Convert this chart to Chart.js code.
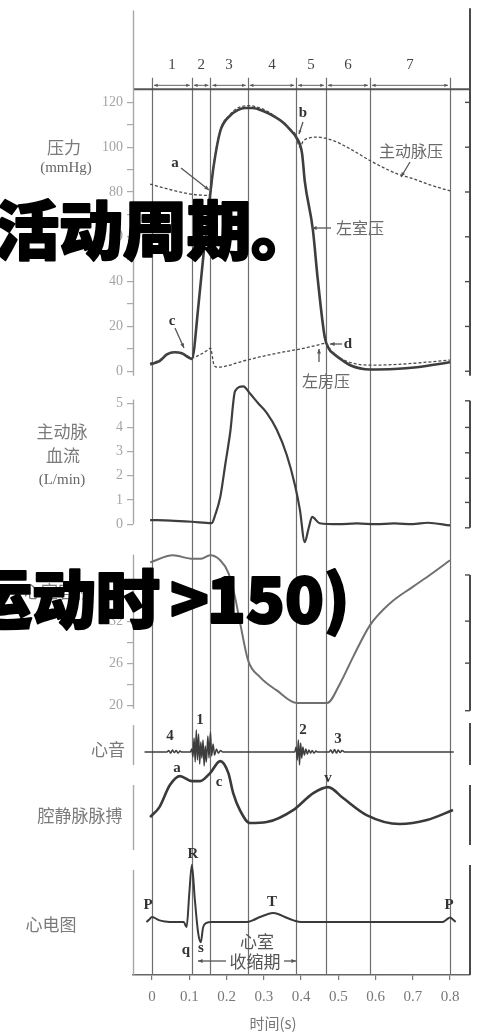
<!DOCTYPE html>
<html>
<head>
<meta charset="utf-8">
<script src="https://cdn.jsdelivr.net/npm/chart.js@4.4.0/dist/chart.umd.min.js"></script>
<style>
  html, body { margin: 0; padding: 0; background: #fff; }
  canvas { display: block; }
</style>
</head>
<body>
<canvas id="cycle" width="477" height="1032"></canvas>
<script>
// time axis (s)
var xTicks = [0, 0.1, 0.2, 0.3, 0.4, 0.5, 0.6, 0.7, 0.8];
var phaseBounds = [0, 0.107, 0.157, 0.257, 0.387, 0.467, 0.585, 0.8];
var phaseNames = ['1', '2', '3', '4', '5', '6', '7'];

// tick values per panel
var pressureTicks = [0, 10, 20, 30, 40, 50, 60, 70, 80, 90, 100, 110, 120];
var flowTicks = [0, 1, 2, 3, 4, 5];
var volumeTicks = [20, 23, 26, 29, 32, 35, 38];

// left ventricular pressure (mmHg)
var lvTime = [-0.005, 0.02, 0.04, 0.06, 0.08, 0.1, 0.107, 0.125, 0.14, 0.157, 0.165, 0.183, 0.209, 0.23, 0.25, 0.27, 0.3, 0.33, 0.352, 0.375, 0.387, 0.403, 0.41, 0.432, 0.445, 0.464, 0.475, 0.486, 0.51, 0.532, 0.585, 0.65, 0.711, 0.8];
var lvPressure = [3, 4.5, 7.5, 8.5, 8, 6, 5.5, 30, 55, 80, 91, 107, 114, 116.5, 117.5, 117.5, 116, 113.5, 111, 107, 104.5, 97, 85, 63, 41, 15, 10, 8, 5, 2.7, 0.8, 1, 1.8, 4];

// aortic pressure (mmHg)
var aoTime = [-0.005, 0.05, 0.107, 0.15, 0.157, 0.165, 0.183, 0.209, 0.23, 0.26, 0.29, 0.32, 0.35, 0.375, 0.387, 0.393, 0.398, 0.405, 0.42, 0.44, 0.466, 0.5, 0.55, 0.58, 0.62, 0.66, 0.7, 0.75, 0.8];
var aoPressure = [83.5, 81, 79, 78.5, 80, 91.5, 107.5, 114.5, 117.5, 118.5, 117.5, 115, 111, 107.5, 105, 101, 100, 102.5, 104, 104.5, 104, 102, 97.5, 94.5, 91, 88, 86, 83, 80.5];

// left atrial pressure (mmHg)
var laTime = [-0.005, 0.02, 0.04, 0.06, 0.08, 0.1, 0.107, 0.13, 0.15, 0.157, 0.166, 0.175, 0.25, 0.3, 0.35, 0.4, 0.44, 0.467, 0.48, 0.5, 0.53, 0.585, 0.65, 0.72, 0.8];
var laPressure = [3.5, 5, 7.5, 8.5, 8, 6.5, 6, 7.5, 9.5, 10.3, 3, 1.8, 4.8, 6.8, 8.5, 10, 11.5, 12.5, 9.5, 6.5, 4, 2.7, 3, 3.8, 5];

// aortic blood flow (L/min)
var flowTime = [-0.005, 0.05, 0.107, 0.16, 0.17, 0.183, 0.197, 0.21, 0.223, 0.245, 0.263, 0.285, 0.308, 0.335, 0.362, 0.384, 0.397, 0.41, 0.42, 0.43, 0.45, 0.5, 0.55, 0.6, 0.65, 0.7, 0.74, 0.8];
var flowRate = [0.17, 0.15, 0.1, 0.04, 0.4, 1.1, 2.5, 3.8, 5.5, 5.7, 5.4, 5.0, 4.6, 3.9, 2.85, 1.6, 0.6, -0.74, -0.2, 0.3, 0.04, 0, 0.03, 0, 0.03, 0, 0.06, -0.05];

// ventricular volume
var volTime = [-0.005, 0.056, 0.11, 0.13, 0.156, 0.183, 0.205, 0.223, 0.236, 0.258, 0.29, 0.335, 0.389, 0.47, 0.505, 0.54, 0.585, 0.64, 0.7, 0.746, 0.8];
var volume = [40.4, 41.4, 40.9, 40.9, 41.4, 40.7, 38.9, 35.4, 31.9, 26.4, 24, 22.1, 20.3, 20.3, 23.1, 26.9, 31.4, 34.6, 36.9, 38.6, 40.7];

// heart sounds (relative amplitude)
var soundTime = [-0.02, 0.04, 0.045, 0.05, 0.055, 0.06, 0.065, 0.07, 0.075, 0.08,
  0.103, 0.107, 0.11, 0.113, 0.116, 0.119, 0.122, 0.125, 0.128, 0.131, 0.134, 0.137, 0.14, 0.143, 0.146, 0.15, 0.153, 0.157, 0.16, 0.164, 0.168, 0.173, 0.178, 0.184, 0.19,
  0.383, 0.387, 0.39, 0.393, 0.396, 0.399, 0.402, 0.405, 0.409, 0.413, 0.417, 0.421, 0.426, 0.43, 0.435, 0.44, 0.445,
  0.475, 0.48, 0.485, 0.49, 0.495, 0.5, 0.505, 0.51, 0.518, 0.81];
var soundAmp = [0, 0, 1.5, -1, 2, -0.5, 1.5, -1, 1, 0,
  0, 3, -5, 14, -10, 22, -8, 18, -12, 10, -6, 12, -14, 6, -10, 16, -6, 20, -4, 8, -3, 3, -1, 1.5, 0,
  0, 5, -8, 12, -13, 9, -6, 5, -3, 3, -2, 2, -1, 1.5, -1, 1, 0,
  0, 2, -1, 2.5, -1, 2, -0.5, 1.5, 0, 0];

// jugular venous pulse (relative)
var jvpTime = [-0.005, 0.02, 0.048, 0.075, 0.107, 0.129, 0.156, 0.183, 0.205, 0.218, 0.236, 0.263, 0.308, 0.379, 0.433, 0.473, 0.513, 0.576, 0.665, 0.738, 0.808];
var jvp = [13, 23, 45, 54, 49, 49, 57, 69, 57, 37, 20, 7, 8, 20, 37, 43, 32, 15, 6, 10, 20];

// ECG (mV)
var ecgTime = [-0.015, -0.008, 0, 0.008, 0.02, 0.035, 0.06, 0.085, 0.093, 0.1, 0.107, 0.115, 0.124, 0.131, 0.137, 0.145, 0.16, 0.255, 0.27, 0.29, 0.31, 0.325, 0.34, 0.36, 0.38, 0.4, 0.78, 0.79, 0.8, 0.807, 0.815];
var ecg = [0, 0.04, 0.09, 0.07, 0.03, 0.01, 0, 0, -0.09, 0.5, 1.02, 0.4, -0.2, -0.36, -0.1, -0.02, 0, 0, 0.03, 0.09, 0.14, 0.16, 0.14, 0.08, 0.03, 0, 0, 0.04, 0.08, 0.05, 0];

function pairs(xs, ys) {
  return xs.map(function (x, i) { return { x: x, y: ys[i] }; });
}

// every panel shares one plot area; each y scale is placed by an anchor value, its pixel row and px per unit
var TOP = 12, BOTTOM = 975;
function span(v0, p0, k) {
  return { min: v0 - (BOTTOM - p0) / k, max: v0 + (p0 - TOP) / k };
}

var tickFont = { family: 'Liberation Serif', size: 14 };
var leftIds = ['yP', 'yF', 'yV'];

function leftAxis(range, values, labelFn) {
  return Object.assign(range, {
    position: 'left',
    afterBuildTicks: function (s) { s.ticks = values.map(function (v) { return { value: v }; }); },
    afterFit: function (s) { s.width = 0; },
    border: { display: false },
    grid: { drawOnChartArea: false, tickLength: 6, color: '#aaa', lineWidth: 1.2 },
    ticks: { autoSkip: false, color: '#a4a4a4', font: tickFont, padding: 4, callback: labelFn }
  });
}

function hidden(range) {
  return Object.assign(range, { display: false });
}

function line(data, axis, width, color, dash) {
  return {
    data: data, yAxisID: axis, borderColor: color, borderWidth: width,
    borderDash: dash || [], pointRadius: 0, fill: false,
    cubicInterpolationMode: 'monotone'
  };
}

function seg(ctx, x1, y1, x2, y2) {
  ctx.beginPath(); ctx.moveTo(x1, y1); ctx.lineTo(x2, y2); ctx.stroke();
}

function arrow(ctx, x1, y1, x2, y2, s) {
  var a = Math.atan2(y2 - y1, x2 - x1);
  s = s || 5;
  seg(ctx, x1, y1, x2, y2);
  ctx.beginPath();
  ctx.moveTo(x2, y2);
  ctx.lineTo(x2 - s * Math.cos(a - 0.4), y2 - s * Math.sin(a - 0.4));
  ctx.lineTo(x2 - s * Math.cos(a + 0.4), y2 - s * Math.sin(a + 0.4));
  ctx.closePath(); ctx.fill();
}

function heavyText(ctx, text, x, y) {
  ctx.strokeText(text, x, y);
  ctx.fillText(text, x, y);
}

// axis stubs and right-hand brackets for each panel
var panels = [
  { id: 'yP', left: [161, -2], right: [162, -2], marks: [0, 20, 40, 60, 80, 100, 120] },
  { id: 'yF', left: [5.15, 0], right: [5.1, -0.15], marks: [-0.15, 0.9, 1.9, 2.95, 4, 5.1] },
  { id: 'yV', left: [41.5, 19.5], right: [38.6, 19.2], marks: [19.2, 26, 32, 38.6] },
  { id: 'yS', left: [27, -13], right: [29, -13], marks: [] },
  { id: 'yJ', left: [45, -20], right: [45, -15], marks: [] },
  { id: 'yE', left: [0.93, null], right: [1.02, null], marks: [] }
];

var framePlugin = {
  id: 'frame',
  afterLayout: function (chart) {
    // the left scales are zero width so they share one edge; open their label box to the canvas edge
    leftIds.forEach(function (id) { chart.scales[id].left = 0; });
  },
  beforeDatasetsDraw: function (chart) {
    var ctx = chart.ctx, area = chart.chartArea, sx = chart.scales.x, sp = chart.scales.yP;
    ctx.save();
    ctx.lineCap = 'butt';

    // phase boundaries
    ctx.strokeStyle = '#6e6e6e'; ctx.lineWidth = 1.2;
    var barTop = sp.getPixelForValue(131);
    phaseBounds.forEach(function (t) {
      var px = Math.round(sx.getPixelForValue(t)) + 0.5;
      seg(ctx, px, barTop, px, area.bottom);
    });

    // top bar with phase arrows and numbers
    var barY = sp.getPixelForValue(125.8);
    ctx.strokeStyle = '#555'; ctx.lineWidth = 2;
    seg(ctx, area.left, barY, area.right, barY);
    ctx.fillStyle = '#555'; ctx.strokeStyle = '#666'; ctx.lineWidth = 1;
    var arrY = sp.getPixelForValue(127.6), numY = sp.getPixelForValue(136.5);
    ctx.font = '15px "Liberation Serif"'; ctx.textAlign = 'center'; ctx.textBaseline = 'middle';
    for (var i = 0; i < phaseNames.length; i++) {
      var a = sx.getPixelForValue(phaseBounds[i]) + 2, b = sx.getPixelForValue(phaseBounds[i + 1]) - 2;
      var m = (a + b) / 2;
      arrow(ctx, m, arrY, a, arrY, 4);
      arrow(ctx, m, arrY, b, arrY, 4);
      ctx.fillStyle = '#444';
      ctx.fillText(phaseNames[i], m, numY);
      ctx.fillStyle = '#555';
    }

    // panel axes
    panels.forEach(function (p) {
      var s = chart.scales[p.id];
      var lt = s.getPixelForValue(p.left[0]);
      var lb = p.left[1] === null ? area.bottom : s.getPixelForValue(p.left[1]);
      ctx.strokeStyle = '#a8a8a8'; ctx.lineWidth = 1.4;
      seg(ctx, area.left + 0.5, lt, area.left + 0.5, lb);
      var rt = s.getPixelForValue(p.right[0]);
      var rb = p.right[1] === null ? area.bottom : s.getPixelForValue(p.right[1]);
      ctx.strokeStyle = '#4a4a4a'; ctx.lineWidth = 2;
      seg(ctx, area.right, rt, area.right, rb);
      ctx.lineWidth = 1.4;
      p.marks.forEach(function (v) {
        var py = s.getPixelForValue(v);
        seg(ctx, area.right - 5, py, area.right, py);
      });
    });
    ctx.restore();
  },
  afterDraw: function (chart) {
    var ctx = chart.ctx;
    ctx.save();
    ctx.textAlign = 'center'; ctx.textBaseline = 'middle';

    // panel titles
    ctx.fillStyle = '#7a7a7a';
    ctx.font = '17px "Noto Sans CJK SC"';
    ctx.fillText('压力', 64, 148);
    ctx.fillText('主动脉', 62, 432);
    ctx.fillText('血流', 63, 456);
    ctx.fillText('心室容积', 58, 592);
    ctx.fillText('心音', 108, 750);
    ctx.fillText('腔静脉脉搏', 80, 816);
    ctx.fillText('心电图', 51, 925);
    ctx.font = '15px "Liberation Serif"';
    ctx.fillStyle = '#666';
    ctx.fillText('(mmHg)', 66, 168);
    ctx.fillText('(L/min)', 62, 480);

    // curve names
    ctx.fillStyle = '#6a6a6a';
    ctx.font = '16px "Noto Sans CJK SC"';
    ctx.fillText('主动脉压', 411, 151);
    ctx.fillText('左室压', 360, 228);
    ctx.fillText('左房压', 326, 381);

    ctx.fillStyle = '#555'; ctx.strokeStyle = '#555'; ctx.lineWidth = 1.3;
    arrow(ctx, 410, 162, 401, 177, 5);
    arrow(ctx, 331, 228, 312, 228, 5);
    arrow(ctx, 319, 362, 319, 349, 5);
    arrow(ctx, 342, 344, 330, 344, 5);
    arrow(ctx, 181, 168, 209, 190, 5);
    arrow(ctx, 303, 122, 299, 134, 4);
    arrow(ctx, 175, 328, 184, 348, 5);

    // point letters
    ctx.fillStyle = '#333';
    ctx.font = 'bold 15px "Liberation Serif"';
    ctx.fillText('a', 175, 163);
    ctx.fillText('b', 303, 113);
    ctx.fillText('c', 172, 321);
    ctx.fillText('d', 348, 344);
    ctx.fillText('4', 170, 736);
    ctx.fillText('1', 200, 720);
    ctx.fillText('2', 303, 730);
    ctx.fillText('3', 338, 739);
    ctx.fillText('a', 177, 768);
    ctx.fillText('c', 219, 782);
    ctx.fillText('v', 328, 778);
    ctx.fillText('R', 193, 854);
    ctx.fillText('P', 148, 905);
    ctx.fillText('T', 272, 902);
    ctx.fillText('P', 449, 905);
    ctx.fillText('q', 186, 950);
    ctx.fillText('s', 201, 948);

    // systole span under the ECG
    ctx.fillStyle = '#555';
    ctx.font = '17px "Noto Sans CJK SC"';
    ctx.fillText('心室', 257, 942);
    ctx.fillText('收缩期', 255, 962);
    ctx.lineWidth = 1.3;
    arrow(ctx, 226, 961, 198, 961, 5);
    arrow(ctx, 284, 961, 296, 961, 5);

    // time axis title
    ctx.fillStyle = '#777';
    ctx.font = '15px "Noto Sans CJK SC"';
    ctx.fillText('时间(s)', 273, 1023);

    // heading text laid over the figure
    ctx.fillStyle = '#000'; ctx.strokeStyle = '#000';
    ctx.lineWidth = 2.2; ctx.lineJoin = 'round';
    ctx.textAlign = 'left';
    ctx.font = '900 64px "Noto Sans CJK SC"';
    heavyText(ctx, '活动周期。', -5, 230);
    heavyText(ctx, '运动时', -32, 599);
    heavyText(ctx, '>', 170, 599);
    heavyText(ctx, '150)', 207, 599);
    ctx.restore();
  }
};

new Chart(document.getElementById('cycle'), {
  type: 'line',
  data: {
    datasets: [
      line(pairs(aoTime, aoPressure), 'yP', 1.3, '#4a4a4a', [3, 2]),
      line(pairs(laTime, laPressure), 'yP', 1.3, '#4a4a4a', [3, 2]),
      line(pairs(lvTime, lvPressure), 'yP', 2.6, '#3e3e3e'),
      line(pairs(flowTime, flowRate), 'yF', 2.2, '#3e3e3e'),
      line(pairs(volTime, volume), 'yV', 2, '#707070'),
      line(pairs(soundTime, soundAmp), 'yS', 1.5, '#3e3e3e'),
      line(pairs(jvpTime, jvp), 'yJ', 2.6, '#3a3a3a'),
      line(pairs(ecgTime, ecg), 'yE', 2, '#3a3a3a')
    ]
  },
  options: {
    responsive: false,
    animation: false,
    devicePixelRatio: 1,
    layout: { padding: { left: 133, right: 7, top: TOP, bottom: 0 } },
    plugins: { legend: { display: false }, tooltip: { enabled: false } },
    scales: {
      x: {
        type: 'linear',
        min: -19 / 372.5,
        max: 0.8 + 20 / 372.5,
        afterBuildTicks: function (s) { s.ticks = xTicks.map(function (v) { return { value: v }; }); },
        afterFit: function (s) { s.height = 57; },
        border: { color: '#666', width: 1.5 },
        grid: { drawOnChartArea: false, tickLength: 5, color: '#777', lineWidth: 1.2 },
        ticks: {
          autoSkip: false, maxRotation: 0, color: '#777', padding: 8,
          font: { family: 'Liberation Serif', size: 15 },
          callback: function (v) { return v === 0 ? '0' : v.toFixed(1); }
        }
      },
      yP: leftAxis(span(0, 371, 269 / 120), pressureTicks, function (v) { return v % 20 === 0 ? v : ''; }),
      yF: leftAxis(span(0, 524, 24.2), flowTicks, function (v) { return v; }),
      yV: leftAxis(span(20, 705, 7), volumeTicks, function (v) { return (v - 20) % 6 === 0 ? v : ''; }),
      yS: hidden(span(0, 752, 1)),
      yJ: hidden(span(0, 830, 1)),
      yE: hidden(span(0, 922, 56))
    }
  },
  plugins: [framePlugin]
});
</script>
</body>
</html>
